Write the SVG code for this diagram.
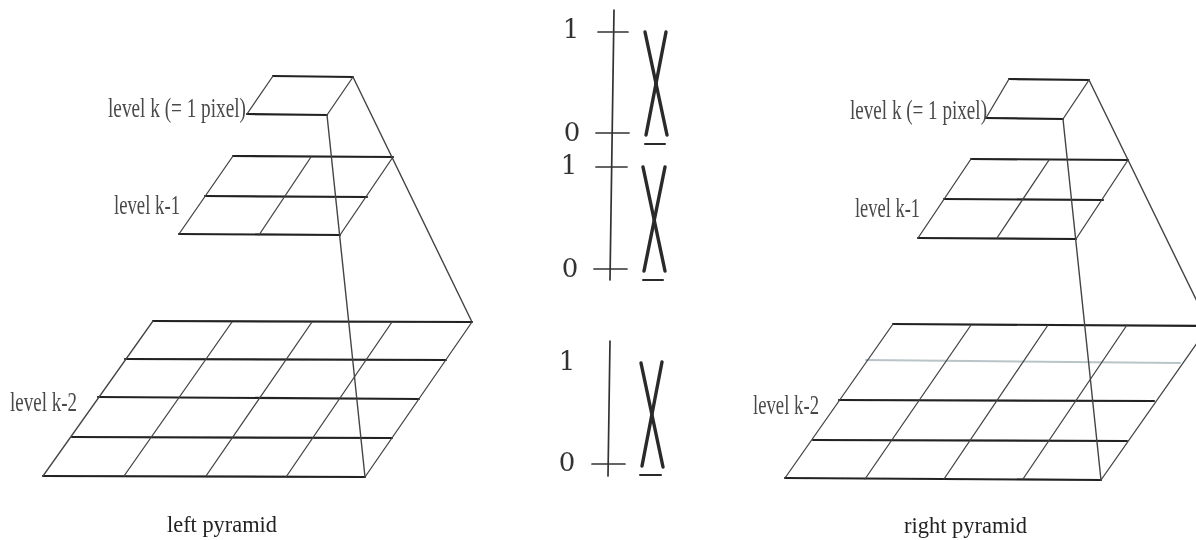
<svg xmlns="http://www.w3.org/2000/svg" width="1196" height="540" viewBox="0 0 1196 540">
<style>
text{font-family:"Liberation Serif","Times New Roman",serif;fill:#4a4a4a;font-size:28px}
.cap{fill:#222;font-size:23px}
.dig{font-family:"DejaVu Serif",serif;font-size:26px;fill:#333;text-anchor:middle}
line{stroke-linecap:round}
.h{stroke:#222;stroke-width:2.2}
.d{stroke:#444;stroke-width:1.3}
.a{stroke:#444;stroke-width:1.4}
.ax{stroke:#333;stroke-width:1.7}
.x{stroke:#2a2a2a;stroke-width:3.4}
.dash{stroke:#2a2a2a;stroke-width:2}
.pale{stroke:#b9c4c9;stroke-width:2}
</style>
<defs><filter id="soft" x="-2%" y="-2%" width="104%" height="104%"><feGaussianBlur stdDeviation="0.35"/></filter></defs>
<rect width="1196" height="540" fill="#fff"/>
<g filter="url(#soft)">
<g id="left-level-k">
<line class="h" x1="273" y1="76" x2="353" y2="77"/><line class="h" x1="247" y1="114" x2="327" y2="115"/>
<line class="d" x1="273" y1="76" x2="247" y2="114"/><line class="d" x1="353" y1="77" x2="327" y2="115"/>
<text x="108" y="117" textLength="138" lengthAdjust="spacingAndGlyphs">level k (= 1 pixel)</text>
</g>
<g id="left-level-k-1">
<line class="h" x1="233" y1="156" x2="393" y2="157"/><line class="h" x1="205" y1="196" x2="367" y2="197"/><line class="h" x1="179" y1="234" x2="340" y2="235"/>
<line class="d" x1="233" y1="156" x2="179" y2="234"/><line class="d" x1="311" y1="157" x2="259" y2="235"/><line class="d" x1="393" y1="157" x2="340" y2="235"/>
<text x="114" y="214" textLength="66" lengthAdjust="spacingAndGlyphs">level k-1</text>
</g>
<g id="left-level-k-2">
<line class="h" x1="153" y1="321" x2="472" y2="322"/><line class="h" x1="125" y1="359" x2="446" y2="360"/><line class="h" x1="98" y1="397" x2="419" y2="399"/><line class="h" x1="72" y1="437" x2="392" y2="438"/><line class="h" x1="43" y1="476" x2="365" y2="477"/>
<line class="d" x1="153" y1="321" x2="43" y2="476"/><line class="d" x1="232" y1="322" x2="124" y2="476"/><line class="d" x1="312" y1="322" x2="206" y2="476"/><line class="d" x1="392" y1="322" x2="286" y2="477"/><line class="d" x1="472" y1="322" x2="365" y2="477"/>
<text x="10" y="411" textLength="67" lengthAdjust="spacingAndGlyphs">level k-2</text>
</g>
<g id="left-caption"><text class="cap" x="167" y="532" textLength="110" lengthAdjust="spacingAndGlyphs">left pyramid</text></g>
<g id="right-level-k">
<line class="h" x1="1009" y1="79" x2="1089" y2="80"/><line class="h" x1="986" y1="118" x2="1063" y2="119"/>
<line class="d" x1="1009" y1="79" x2="986" y2="118"/><line class="d" x1="1089" y1="80" x2="1063" y2="119"/>
<text x="850" y="119" textLength="137" lengthAdjust="spacingAndGlyphs">level k (= 1 pixel)</text>
</g>
<g id="right-level-k-1">
<line class="h" x1="971" y1="159" x2="1128" y2="160"/><line class="h" x1="944" y1="199" x2="1103" y2="200"/><line class="h" x1="918" y1="238" x2="1076" y2="239"/>
<line class="d" x1="971" y1="159" x2="918" y2="238"/><line class="d" x1="1049" y1="160" x2="997" y2="238"/><line class="d" x1="1128" y1="160" x2="1076" y2="239"/>
<text x="855" y="217" textLength="65" lengthAdjust="spacingAndGlyphs">level k-1</text>
</g>
<g id="right-level-k-2">
<line class="h" x1="893" y1="324" x2="1209" y2="326"/><line class="pale" x1="866" y1="360" x2="1180" y2="363"/><line class="h" x1="839" y1="400" x2="1154" y2="401"/><line class="h" x1="813" y1="440" x2="1127" y2="441"/><line class="h" x1="785" y1="478" x2="1101" y2="480"/>
<line class="d" x1="893" y1="324" x2="785" y2="478"/><line class="d" x1="971" y1="325" x2="865" y2="479"/><line class="d" x1="1048" y1="325" x2="944" y2="479"/><line class="d" x1="1127" y1="325" x2="1023" y2="479"/><line class="d" x1="1209" y1="326" x2="1101" y2="480"/>
<text x="753" y="414" textLength="66" lengthAdjust="spacingAndGlyphs">level k-2</text>
</g>
<g id="right-caption"><text class="cap" x="904" y="533" textLength="123" lengthAdjust="spacingAndGlyphs">right pyramid</text></g>
<g id="connectors">
<line class="a" x1="353" y1="77" x2="472" y2="322"/><line class="a" x1="327" y1="115" x2="365" y2="477"/>
<line class="a" x1="1089" y1="80" x2="1209" y2="326"/><line class="a" x1="1063" y1="119" x2="1101" y2="480"/>
</g>
<g id="scale-top">
<line class="ax" x1="614" y1="10" x2="610" y2="280"/>
<line class="ax" x1="598" y1="32" x2="628" y2="32"/><line class="ax" x1="596" y1="133" x2="629" y2="133"/><line class="ax" x1="596" y1="167" x2="627" y2="167"/><line class="ax" x1="594" y1="269" x2="627" y2="269"/>
<text class="dig" x="571" y="38">1</text><text class="dig" x="572" y="141">0</text><text class="dig" x="569" y="174">1</text><text class="dig" x="570" y="277">0</text>
<line class="x" x1="645" y1="32" x2="667" y2="135"/><line class="x" x1="666" y1="32" x2="646" y2="135"/><line class="dash" x1="645" y1="144" x2="665" y2="144"/>
<line class="x" x1="643" y1="167" x2="665" y2="271"/><line class="x" x1="665" y1="167" x2="644" y2="271"/><line class="dash" x1="643" y1="280" x2="663" y2="280"/>
</g>
<g id="scale-bottom">
<line class="ax" x1="610" y1="341" x2="608" y2="476"/><line class="ax" x1="592" y1="464" x2="625" y2="464"/>
<text class="dig" x="567" y="370">1</text><text class="dig" x="567" y="471">0</text>
<line class="x" x1="641" y1="363" x2="663" y2="467"/><line class="x" x1="662" y1="362" x2="642" y2="466"/><line class="dash" x1="640" y1="475" x2="661" y2="475"/>
</g>
</g>
</svg>
